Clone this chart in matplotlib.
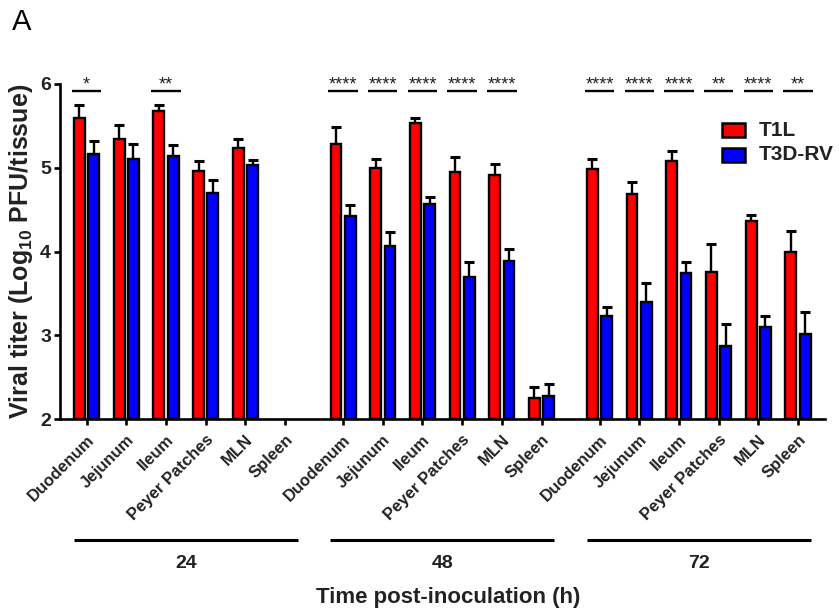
import matplotlib
matplotlib.use("Agg")
import matplotlib.pyplot as plt
from matplotlib.patches import Rectangle
import numpy as np

plt.rcParams['font.family'] = ['Liberation Sans', 'DejaVu Sans']
plt.rcParams['mathtext.fontset'] = 'custom'
plt.rcParams['mathtext.rm'] = 'Liberation Sans'
plt.rcParams['mathtext.bf'] = 'Liberation Sans:bold'
plt.rcParams['mathtext.it'] = 'Liberation Sans:italic'

tissues = ["Duodenum", "Jejunum", "Ileum", "Peyer Patches", "MLN", "Spleen"]
times = ["24", "48", "72"]

t1l_24 = [5.60, 5.34, 5.68, 4.96, 5.23, np.nan]
t1l_24_err = [0.15, 0.17, 0.07, 0.12, 0.11, 0.0]
t3d_24 = [5.16, 5.11, 5.14, 4.70, 5.03, np.nan]
t3d_24_err = [0.16, 0.17, 0.13, 0.15, 0.06, 0.0]

t1l_48 = [5.28, 5.00, 5.54, 4.95, 4.91, 2.25]
t1l_48_err = [0.21, 0.11, 0.06, 0.18, 0.14, 0.13]
t3d_48 = [4.42, 4.07, 4.57, 3.70, 3.89, 2.27]
t3d_48_err = [0.13, 0.16, 0.08, 0.18, 0.14, 0.15]

t1l_72 = [4.98, 4.69, 5.08, 3.75, 4.36, 4.00]
t1l_72_err = [0.12, 0.14, 0.12, 0.34, 0.08, 0.25]
t3d_72 = [3.23, 3.40, 3.74, 2.87, 3.10, 3.02]
t3d_72_err = [0.11, 0.22, 0.14, 0.26, 0.13, 0.26]

sig_24 = ["*", "", "**", "", "", ""]
sig_48 = ["****", "****", "****", "****", "****", ""]
sig_72 = ["****", "****", "****", "**", "****", "**"]

t1l = [t1l_24, t1l_48, t1l_72]
t1l_err = [t1l_24_err, t1l_48_err, t1l_72_err]
t3d = [t3d_24, t3d_48, t3d_72]
t3d_err = [t3d_24_err, t3d_48_err, t3d_72_err]
sigs = [sig_24, sig_48, sig_72]

RED = "#FF0000"
BLUE = "#0000FF"
TXT = "#222222"

fig = plt.figure(figsize=(8.39, 6.11), dpi=100)
W, H = 839, 611
ax_l, ax_r, ax_t, ax_b = 60, 825, 84, 419
ax = fig.add_axes([ax_l / W, 1 - ax_b / H, (ax_r - ax_l) / W, (ax_b - ax_t) / H])

group_step = 6.46
bw = 0.27
off = 0.18
base = 2.0

xticks = []
xlabels = []
for g in range(3):
    pos = g * group_step + np.arange(len(tissues))
    xticks.extend(pos)
    xlabels.extend(tissues)
    r = np.array(t1l[g], dtype=float)
    b = np.array(t3d[g], dtype=float)
    re = np.array(t1l_err[g], dtype=float)
    be = np.array(t3d_err[g], dtype=float)
    ax.bar(pos - off, r - base, bw, bottom=base, color=RED, edgecolor="black",
           linewidth=1.7, zorder=3)
    ax.bar(pos + off, b - base, bw, bottom=base, color=BLUE, edgecolor="black",
           linewidth=1.7, zorder=3)
    mr = ~np.isnan(r)
    mb = ~np.isnan(b)
    ax.errorbar(pos[mr] - off, r[mr], yerr=[np.zeros(mr.sum()), re[mr]], fmt="none",
                ecolor="black", elinewidth=1.7, capsize=3.5, capthick=2.2, zorder=2)
    ax.errorbar(pos[mb] + off, b[mb], yerr=[np.zeros(mb.sum()), be[mb]], fmt="none",
                ecolor="black", elinewidth=1.7, capsize=3.5, capthick=2.2, zorder=2)
    for k, s in enumerate(sigs[g]):
        if s:
            ax.plot([pos[k] - 0.37, pos[k] + 0.37], [5.913, 5.913], color="black",
                    lw=1.7, clip_on=False, solid_capstyle="butt")
            ax.text(pos[k], 5.93, s, ha="center", va="baseline", fontsize=13,
                    color=TXT, clip_on=False)
    trans = ax.get_xaxis_transform()
    ax.plot([pos[0] - 0.32, pos[-1] + 0.32], [(ax_b - 540) / (ax_b - ax_t)] * 2,
            color="black", lw=2.2, transform=trans, clip_on=False, solid_capstyle="butt")
    ax.text((pos[0] + pos[-1]) / 2, (ax_b - 563) / (ax_b - ax_t), times[g],
            transform=trans, ha="center", va="center", fontsize=14,
            fontweight="bold", color=TXT)

ax.set_xlim(-0.67, 2 * group_step + 5 + 0.68)
ax.set_ylim(2, 6)
ax.set_yticks([2, 3, 4, 5, 6])
ax.set_xticks(xticks)
ax.set_xticklabels(xlabels, rotation=45, ha="right", va="top",
                   rotation_mode="anchor", fontsize=12, fontweight="bold", color=TXT)
for lab in ax.get_yticklabels():
    lab.set_fontweight("bold")
    lab.set_fontsize(14)
    lab.set_color(TXT)

for s in ["top", "right"]:
    ax.spines[s].set_visible(False)
for s in ["left", "bottom"]:
    ax.spines[s].set_linewidth(1.9)
ax.tick_params(axis="both", width=1.9, length=4.5, color="black")
ax.tick_params(axis="y", pad=2)
ax.tick_params(axis="x", pad=5)

ax.set_ylabel("Viral titer (Log$_{\\mathbf{10}}$ PFU/tissue)", fontsize=18,
              fontweight="bold", color=TXT, labelpad=4)

fig.text(448 / W, 1 - 597 / H, "Time post-inoculation (h)",
         ha="center", va="center", fontsize=16, fontweight="bold", color=TXT)

def fx(px):
    return (px - ax_l) / (ax_r - ax_l)

def fy(py):
    return (ax_b - py) / (ax_b - ax_t)

for (ytop, ybot, col, lab) in [(123, 137, RED, "T1L"), (148, 162, BLUE, "T3D-RV")]:
    ax.add_patch(Rectangle((fx(722), fy(ybot)), fx(745) - fx(722), fy(ytop) - fy(ybot),
                           transform=ax.transAxes, facecolor=col, edgecolor="black",
                           linewidth=1.8, clip_on=False, zorder=5))
    ax.text(fx(759), fy((ytop + ybot) / 2), lab, transform=ax.transAxes, ha="left",
            va="center", fontsize=15, fontweight="bold", color=TXT)

fig.text(12 / W, 1 - 22 / H, "A", ha="left", va="center", fontsize=21, color="black")

fig.savefig("out.png", dpi=100)
